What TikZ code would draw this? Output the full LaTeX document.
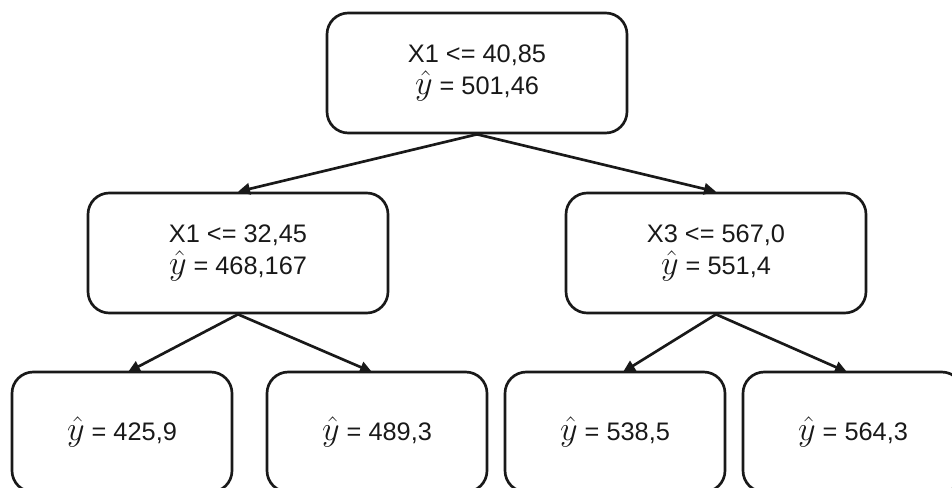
\RequirePackage{fix-cm}
\documentclass[tikz,border=0pt]{standalone}
\usepackage{graphicx}
\usepackage{fontspec}
\setmainfont{Liberation Sans}
\usetikzlibrary{arrows.meta}
\newcommand{\yhatsym}{\scalebox{1.35}{$\hat{y}$}}
\tikzset{
  treebox/.style={draw=black!90, line width=2pt, rounded corners=16pt, align=center,
    font=\fontsize{19pt}{23.7pt}\selectfont, text=black!90, inner sep=0pt},
  inner/.style={treebox, minimum width=225pt, minimum height=90pt},
  leaf/.style={treebox, minimum width=165pt, minimum height=90pt},
  edge/.style={draw=black!90, line width=2pt, -{Triangle[length=9pt,width=8.5pt]}}
}
\begin{document}
\begin{tikzpicture}[x=0.75pt,y=-0.75pt]
\useasboundingbox (0,0) rectangle (952,488);
\clip (0,0) rectangle (952,488);
\node[inner] (root) at (477,73) {X1 <= 40,85\\\yhatsym{} = 501,46};
\node[inner] (L) at (238,253) {X1 <= 32,45\\\yhatsym{} = 468,167};
\node[inner] (R) at (716,253) {X3 <= 567,0\\\yhatsym{} = 551,4};
\node[leaf] (LL) at (122,432) {\yhatsym{} = 425,9};
\node[leaf] (LR) at (377,432) {\yhatsym{} = 489,3};
\node[leaf] (RL) at (615,432) {\yhatsym{} = 538,5};
\node[leaf] (RR) at (853,432) {\yhatsym{} = 564,3};
\coordinate (tLL) at (128,372);
\coordinate (tLR) at (372,372);
\coordinate (tRL) at (623,372);
\coordinate (tRR) at (847,372);
\draw[edge] (root.south) -- (L.north);
\draw[edge] (root.south) -- (R.north);
\draw[edge] (L.south) -- (tLL);
\draw[edge] (L.south) -- (tLR);
\draw[edge] (R.south) -- (tRL);
\draw[edge] (R.south) -- (tRR);
\end{tikzpicture}
\end{document}
